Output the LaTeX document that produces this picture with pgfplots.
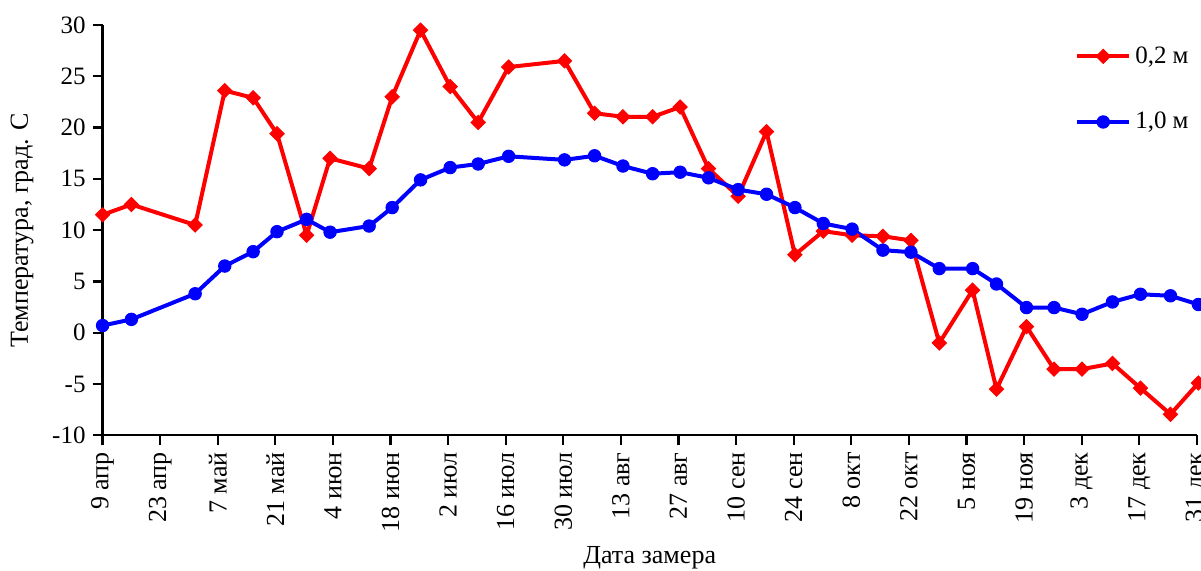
\documentclass[border=0pt]{standalone}
\usepackage{fontspec}
\setmainfont{Liberation Serif}
\usepackage{pgfplots}
\usepackage{pgfplotstable}
\pgfplotsset{compat=1.18}
\pgfplotstableread{
day   red    blue
0     11.5   0.7
7     12.5   1.3
22.5  10.5   3.8
29.7  23.6   6.5
36.6  22.9   7.9
42.4  19.4   9.85
49.6  9.5    11.05
55.3  17.0   9.8
64.8  16.0   10.4
70.4  23.0   12.2
77.3  29.5   14.9
84.5  24.0   16.1
91.3  20.5   16.45
98.7  25.9   17.2
112.3 26.5   16.85
119.6 21.4   17.25
126.5 21.05  16.25
133.7 21.05  15.5
140.4 22.0   15.65
147.3 16.0   15.1
154.5 13.3   13.95
161.4 19.6   13.5
168.3 7.6    12.2
175.2 9.9    10.65
182.2 9.5    10.1
189.7 9.4    8.05
196.5 9.0    7.85
203.4 -1.0   6.25
211.5 4.15   6.25
217.3 -5.5   4.75
224.6 0.6    2.45
231.3 -3.55  2.45
238.1 -3.55  1.8
245.5 -3.0   3.0
252.3 -5.4   3.75
259.6 -7.95  3.6
266.4 -4.9   2.75
}\datatable
\begin{document}
\begin{tikzpicture}
\begin{axis}[
  scale only axis,
  width=547.1pt, height=205.15pt,
  xmin=0, xmax=266, ymin=-10, ymax=30,
  clip=false,
  axis lines=left,
  axis line style={-, line width=1.1pt, black},
  tick align=outside,
  major tick length=5pt,
  every tick/.style={black, line width=1.1pt},
  font=\fontsize{13}{15.6}\selectfont,
  xtick={0,14,...,266},
  xticklabels={9 апр,23 апр,7 май,21 май,4 июн,18 июн,2 июл,16 июл,30 июл,13 авг,27 авг,10 сен,24 сен,8 окт,22 окт,5 ноя,19 ноя,3 дек,17 дек,31 дек},
  xticklabel style={rotate=90, anchor=east},
  ytick={-10,-5,...,30},
  yticklabels={-10,-5,0,5,10,15,20,25,30},
  yticklabel style={font=\fontsize{12.5}{15}\selectfont},
  xlabel={Дата замера},
  ylabel={Температура, град. С},
  xlabel style={at={(rel axis cs:0.5,0)}, anchor=center, yshift=-61pt},
  ylabel style={at={(rel axis cs:-0.0737,0.5)}, anchor=center},
  legend style={draw=none, fill=none, at={(rel axis cs:1.002,0.968)}, anchor=north east, row sep=19pt, font=\fontsize{12.5}{15}\selectfont},
  legend cell align=left,
  legend image code/.code={\draw[mark repeat=2,mark phase=2] plot coordinates {(0pt,0pt) (13pt,0pt) (26pt,0pt)};},
]
\addplot[color=red, line width=2pt, mark=square*, mark size=2.5pt, mark options={rotate=45, solid, fill=red, line width=0.5pt}] table[x=day, y=red] {\datatable};
\addlegendentry{0,2 м}
\addplot[color=blue, line width=2pt, mark=*, mark size=3.1pt, mark options={solid, fill=blue, line width=0.5pt}] table[x=day, y=blue] {\datatable};
\addlegendentry{1,0 м}
\end{axis}
\pgfresetboundingbox
\useasboundingbox (-51.3pt,-67.85pt) rectangle (549.2pt,217.65pt);
\end{tikzpicture}
\end{document}
